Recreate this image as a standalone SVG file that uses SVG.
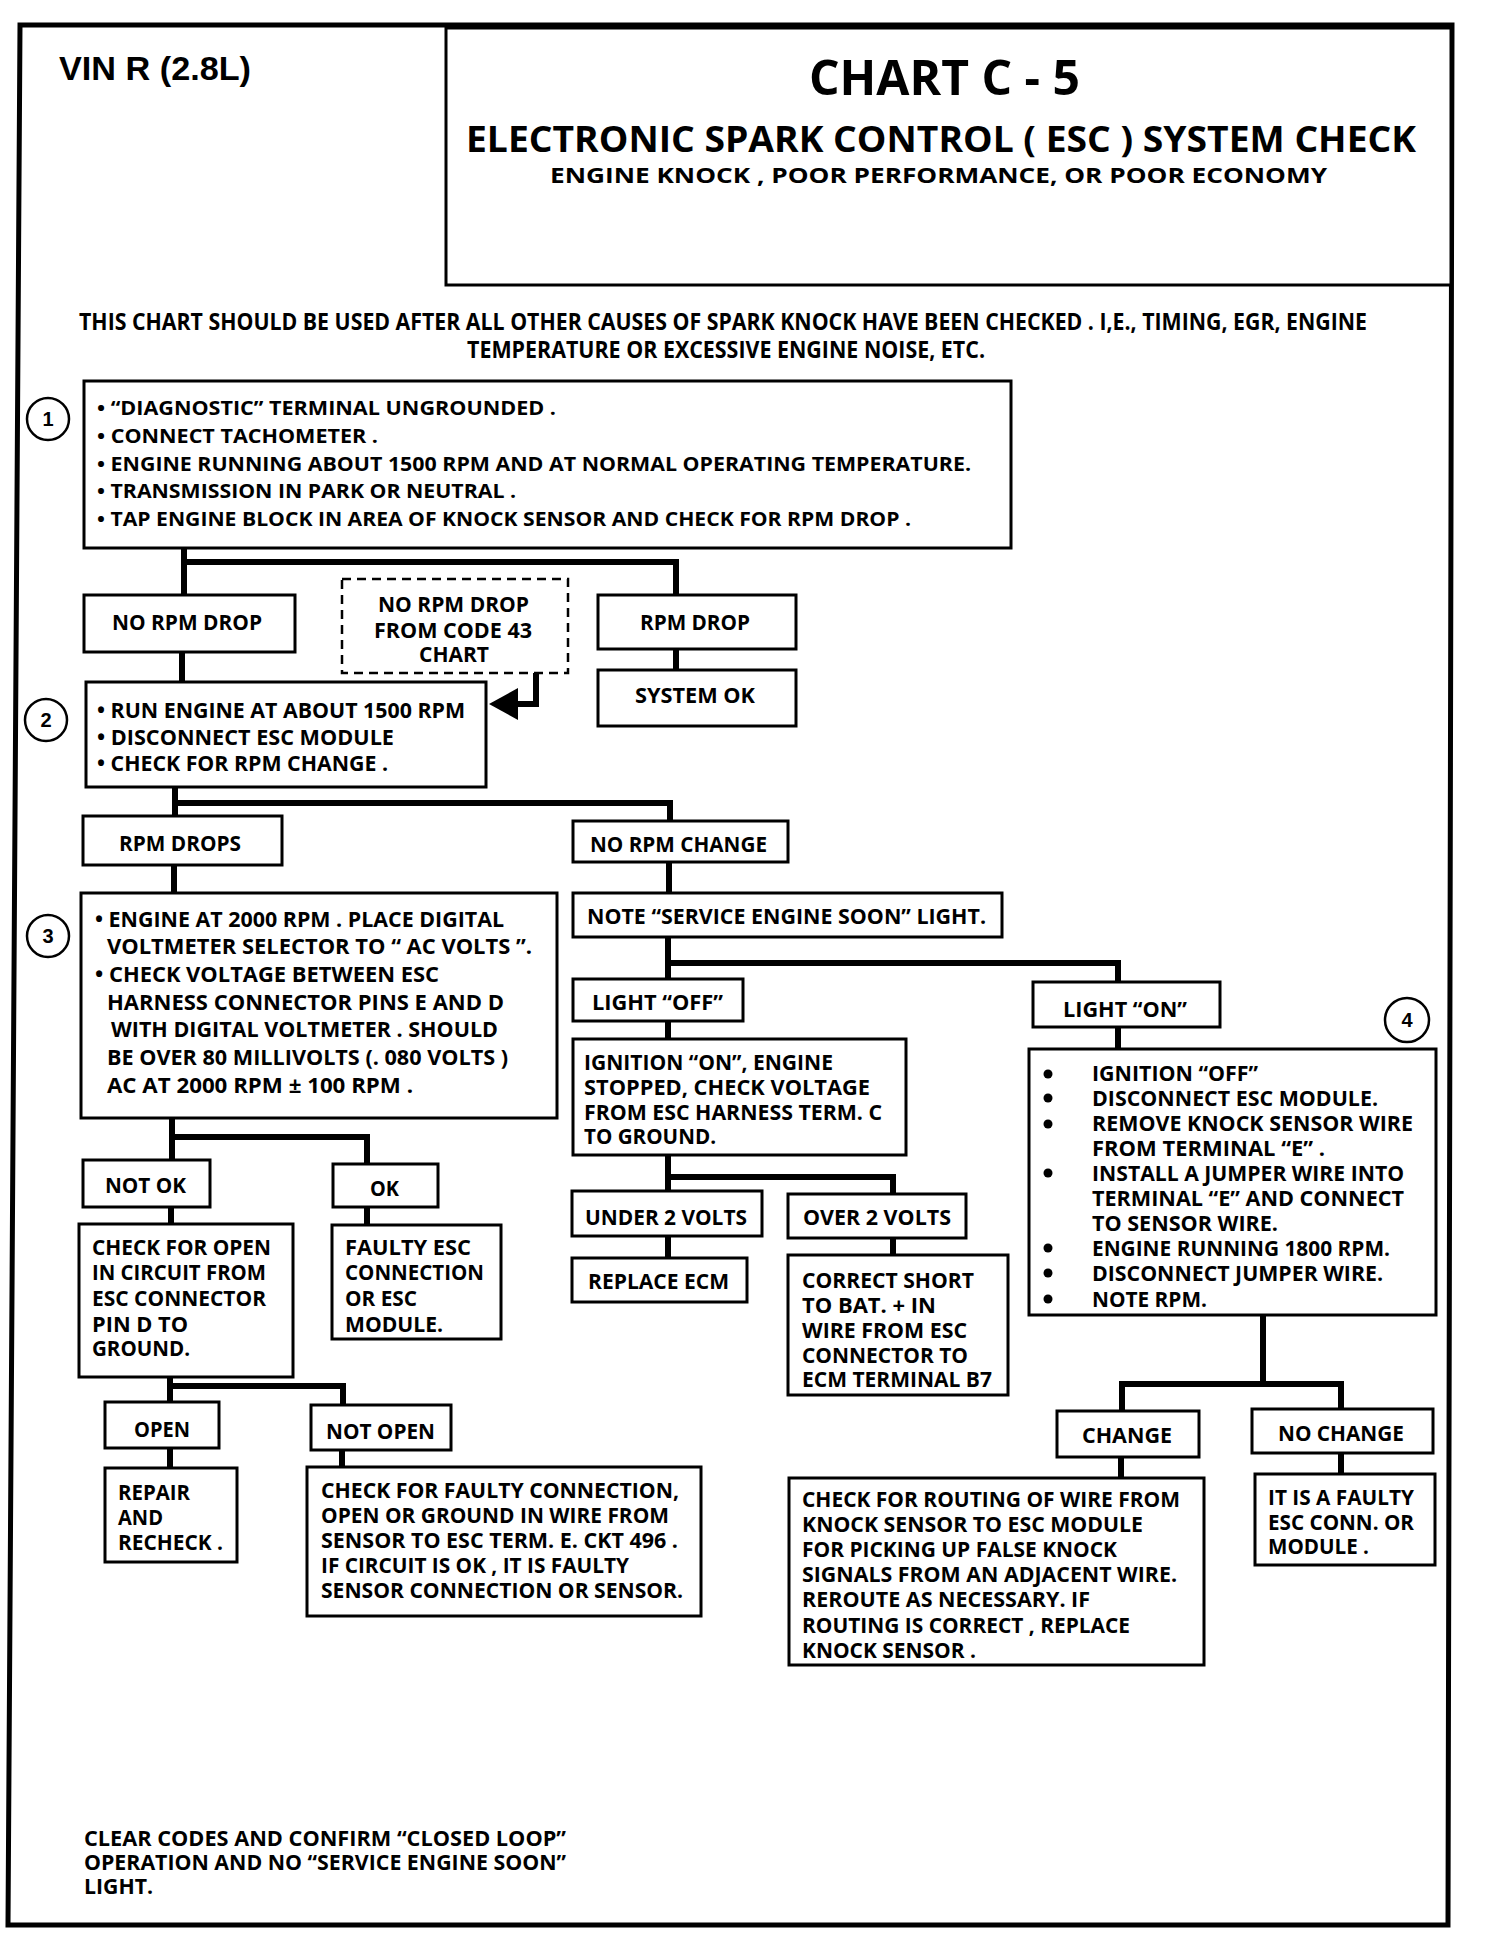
<svg xmlns="http://www.w3.org/2000/svg" width="1504" height="1956" viewBox="0 0 1504 1956" xml:space="preserve">
<style>
.bg{fill:#fff}
.frame{fill:none;stroke:#000;stroke-width:5;stroke-linejoin:miter}
.box{fill:#fff;stroke:#000;stroke-width:3}
.dash{fill:#fff;stroke:#000;stroke-width:2.5;stroke-dasharray:9 6}
.conn{fill:none;stroke:#000;stroke-width:6;stroke-linecap:square}
.circ{fill:#fff;stroke:#000;stroke-width:2.5}
.dot{fill:#000}
text{font-family:"Open Sans","Liberation Sans",sans-serif;font-weight:700;font-size:21px;fill:#000}
.s20{font-size:20px}
.s22{font-size:22px}
.num{font-family:"Liberation Sans",Arial,sans-serif;font-size:20px;text-anchor:middle}
.vin{font-family:"Liberation Sans",Arial,sans-serif;font-size:33px}
.h1{font-size:49px}
.h2{font-size:35px}
.h3{font-size:23px}
</style>
<rect class="bg" x="0" y="0" width="1504" height="1956"/>

<g id="page">
  <path class="frame" d="M20 25 L1452 25 L1448 1925 L8 1925 Z"/>
  <rect class="box" x="446" y="28" width="1005" height="257"/>
  <text class="vin" x="59" y="80" textLength="192" lengthAdjust="spacingAndGlyphs">VIN R (2.8L)</text>
  <text class="h1" x="809" y="95" textLength="271" lengthAdjust="spacingAndGlyphs">CHART C - 5</text>
  <text class="h2" x="466" y="152" textLength="950" lengthAdjust="spacingAndGlyphs">ELECTRONIC SPARK CONTROL ( ESC ) SYSTEM CHECK</text>
  <text class="s22" x="550" y="183" textLength="777" lengthAdjust="spacingAndGlyphs">ENGINE KNOCK , POOR PERFORMANCE, OR POOR ECONOMY</text>
  <text class="h3" x="79" y="330" textLength="1288" lengthAdjust="spacingAndGlyphs">THIS CHART SHOULD BE USED AFTER ALL OTHER CAUSES OF SPARK KNOCK HAVE BEEN CHECKED . I,E.,  TIMING, EGR, ENGINE</text>
  <text class="h3" x="467" y="358" textLength="518" lengthAdjust="spacingAndGlyphs">TEMPERATURE OR EXCESSIVE ENGINE NOISE, ETC.</text>
</g>

<g id="connectors">
  <path class="conn" d="M184 548 V595 M184 562 H676 V595"/>
  <path class="conn" d="M676 649 V670"/>
  <path class="conn" d="M182 652 V682"/>
  <path class="conn" d="M536 673 V704 H514"/>
  <polygon points="489,704 518,688 518,720" fill="#000"/>
  <path class="conn" d="M175 787 V816 M175 803 H670 V821"/>
  <path class="conn" d="M174 865 V893"/>
  <path class="conn" d="M669 862 V893"/>
  <path class="conn" d="M668 937 V979 M668 963 H1118 V982"/>
  <path class="conn" d="M668 1021 V1039"/>
  <path class="conn" d="M668 1155 V1191 M668 1177 H893 V1194"/>
  <path class="conn" d="M668 1236 V1258"/>
  <path class="conn" d="M893 1238 V1255"/>
  <path class="conn" d="M1118 1027 V1049"/>
  <path class="conn" d="M1263 1315 V1384 M1122 1411 V1384 H1341 V1409"/>
  <path class="conn" d="M1121 1457 V1478"/>
  <path class="conn" d="M1341 1453 V1474"/>
  <path class="conn" d="M172 1118 V1160 M172 1137 H367 V1164"/>
  <path class="conn" d="M171 1207 V1224"/>
  <path class="conn" d="M367 1207 V1225"/>
  <path class="conn" d="M170 1377 V1402 M170 1386 H343 V1405"/>
  <path class="conn" d="M170 1448 V1468"/>
  <path class="conn" d="M342 1450 V1467"/>
</g>

<g id="step1">
  <rect class="box" x="84" y="381" width="927" height="167"/>
  <circle class="circ" cx="48" cy="419" r="21"/>
  <text class="num" x="48" y="426">1</text>
  <text class="s20" x="97" y="415" textLength="459" lengthAdjust="spacingAndGlyphs">• “DIAGNOSTIC” TERMINAL UNGROUNDED .</text>
  <text class="s20" x="97" y="443" textLength="281" lengthAdjust="spacingAndGlyphs">• CONNECT TACHOMETER .</text>
  <text class="s20" x="97" y="471" textLength="874" lengthAdjust="spacingAndGlyphs">• ENGINE RUNNING  ABOUT 1500 RPM AND AT NORMAL OPERATING TEMPERATURE.</text>
  <text class="s20" x="97" y="498" textLength="419" lengthAdjust="spacingAndGlyphs">• TRANSMISSION IN PARK OR NEUTRAL .</text>
  <text class="s20" x="97" y="526" textLength="814" lengthAdjust="spacingAndGlyphs">• TAP ENGINE BLOCK IN AREA OF KNOCK SENSOR AND CHECK FOR RPM DROP .</text>
</g>

<g id="no-rpm-drop">
  <rect class="box" x="84" y="595" width="211" height="57"/>
  <text x="112" y="630" textLength="150" lengthAdjust="spacingAndGlyphs">NO RPM DROP</text>
</g>
<g id="code43">
  <rect class="dash" x="342" y="579" width="226" height="94"/>
  <text x="378" y="612" textLength="151" lengthAdjust="spacingAndGlyphs">NO RPM DROP</text>
  <text x="374" y="638" textLength="158" lengthAdjust="spacingAndGlyphs">FROM CODE 43</text>
  <text x="419" y="662" textLength="70" lengthAdjust="spacingAndGlyphs">CHART</text>
</g>
<g id="rpm-drop">
  <rect class="box" x="598" y="595" width="198" height="54"/>
  <text x="640" y="630" textLength="110" lengthAdjust="spacingAndGlyphs">RPM DROP</text>
</g>
<g id="system-ok">
  <rect class="box" x="598" y="670" width="198" height="56"/>
  <text x="635" y="703" textLength="120" lengthAdjust="spacingAndGlyphs">SYSTEM OK</text>
</g>

<g id="step2">
  <rect class="box" x="86" y="682" width="400" height="105"/>
  <circle class="circ" cx="46" cy="720" r="21"/>
  <text class="num" x="46" y="727">2</text>
  <text x="97" y="718" textLength="368" lengthAdjust="spacingAndGlyphs">• RUN ENGINE AT ABOUT 1500 RPM</text>
  <text x="97" y="745" textLength="297" lengthAdjust="spacingAndGlyphs">• DISCONNECT ESC MODULE</text>
  <text x="97" y="771" textLength="291" lengthAdjust="spacingAndGlyphs">• CHECK FOR RPM CHANGE .</text>
</g>

<g id="rpm-drops">
  <rect class="box" x="83" y="816" width="199" height="49"/>
  <text x="119" y="851" textLength="122" lengthAdjust="spacingAndGlyphs">RPM DROPS</text>
</g>
<g id="no-rpm-change">
  <rect class="box" x="573" y="821" width="215" height="41"/>
  <text x="590" y="852" textLength="177" lengthAdjust="spacingAndGlyphs">NO RPM CHANGE</text>
</g>

<g id="step3">
  <rect class="box" x="81" y="893" width="476" height="225"/>
  <circle class="circ" cx="48" cy="936" r="21"/>
  <text class="num" x="48" y="943">3</text>
  <text class="s22" x="95" y="927" textLength="409" lengthAdjust="spacingAndGlyphs">• ENGINE AT 2000 RPM . PLACE DIGITAL</text>
  <text class="s22" x="107" y="954" textLength="425" lengthAdjust="spacingAndGlyphs">VOLTMETER SELECTOR TO “ AC VOLTS ”.</text>
  <text class="s22" x="95" y="982" textLength="344" lengthAdjust="spacingAndGlyphs">• CHECK VOLTAGE BETWEEN ESC</text>
  <text class="s22" x="107" y="1010" textLength="397" lengthAdjust="spacingAndGlyphs">HARNESS CONNECTOR PINS  E  AND  D</text>
  <text class="s22" x="111" y="1037" textLength="387" lengthAdjust="spacingAndGlyphs">WITH DIGITAL VOLTMETER . SHOULD</text>
  <text class="s22" x="107" y="1065" textLength="401" lengthAdjust="spacingAndGlyphs">BE OVER 80 MILLIVOLTS (. 080  VOLTS )</text>
  <text class="s22" x="107" y="1093" textLength="306" lengthAdjust="spacingAndGlyphs">AC  AT 2000 RPM  ±  100 RPM .</text>
</g>

<g id="note-ses">
  <rect class="box" x="573" y="893" width="429" height="44"/>
  <text x="587" y="924" textLength="399" lengthAdjust="spacingAndGlyphs">NOTE “SERVICE ENGINE SOON” LIGHT.</text>
</g>
<g id="light-off">
  <rect class="box" x="573" y="979" width="170" height="42"/>
  <text x="592" y="1010" textLength="131" lengthAdjust="spacingAndGlyphs">LIGHT “OFF”</text>
</g>
<g id="light-on">
  <rect class="box" x="1033" y="982" width="187" height="45"/>
  <text x="1063" y="1017" textLength="124" lengthAdjust="spacingAndGlyphs">LIGHT “ON”</text>
</g>
<g id="ignition-on">
  <rect class="box" x="573" y="1039" width="333" height="116"/>
  <text x="584" y="1070" textLength="249" lengthAdjust="spacingAndGlyphs">IGNITION “ON”, ENGINE</text>
  <text x="584" y="1095" textLength="286" lengthAdjust="spacingAndGlyphs">STOPPED,  CHECK VOLTAGE</text>
  <text x="584" y="1120" textLength="298" lengthAdjust="spacingAndGlyphs">FROM ESC HARNESS TERM. C</text>
  <text x="584" y="1144" textLength="132" lengthAdjust="spacingAndGlyphs">TO GROUND.</text>
</g>
<g id="under-2v">
  <rect class="box" x="572" y="1191" width="190" height="45"/>
  <text x="585" y="1225" textLength="162" lengthAdjust="spacingAndGlyphs">UNDER 2 VOLTS</text>
</g>
<g id="over-2v">
  <rect class="box" x="788" y="1194" width="178" height="44"/>
  <text x="803" y="1225" textLength="148" lengthAdjust="spacingAndGlyphs">OVER 2 VOLTS</text>
</g>
<g id="replace-ecm">
  <rect class="box" x="572" y="1258" width="175" height="44"/>
  <text x="588" y="1289" textLength="141" lengthAdjust="spacingAndGlyphs">REPLACE ECM</text>
</g>
<g id="correct-short">
  <rect class="box" x="788" y="1255" width="220" height="140"/>
  <text x="802" y="1288" textLength="172" lengthAdjust="spacingAndGlyphs">CORRECT SHORT</text>
  <text x="802" y="1313" textLength="134" lengthAdjust="spacingAndGlyphs">TO BAT.  +  IN</text>
  <text x="802" y="1338" textLength="165" lengthAdjust="spacingAndGlyphs">WIRE FROM ESC</text>
  <text x="802" y="1363" textLength="166" lengthAdjust="spacingAndGlyphs">CONNECTOR TO</text>
  <text x="802" y="1387" textLength="190" lengthAdjust="spacingAndGlyphs">ECM TERMINAL B7</text>
</g>

<g id="step4">
  <rect class="box" x="1029" y="1049" width="407" height="266"/>
  <circle class="circ" cx="1407" cy="1020" r="22"/>
  <text class="num" x="1407" y="1027">4</text>
  <circle class="dot" cx="1048" cy="1074" r="4.5"/>
  <circle class="dot" cx="1048" cy="1098" r="4.5"/>
  <circle class="dot" cx="1048" cy="1124" r="4.5"/>
  <circle class="dot" cx="1048" cy="1173" r="4.5"/>
  <circle class="dot" cx="1048" cy="1248" r="4.5"/>
  <circle class="dot" cx="1048" cy="1273" r="4.5"/>
  <circle class="dot" cx="1048" cy="1299" r="4.5"/>
  <text x="1092" y="1081" textLength="166" lengthAdjust="spacingAndGlyphs">IGNITION “OFF”</text>
  <text x="1092" y="1106" textLength="286" lengthAdjust="spacingAndGlyphs">DISCONNECT ESC MODULE.</text>
  <text x="1092" y="1131" textLength="321" lengthAdjust="spacingAndGlyphs">REMOVE KNOCK SENSOR WIRE</text>
  <text x="1092" y="1156" textLength="233" lengthAdjust="spacingAndGlyphs">FROM TERMINAL “E” .</text>
  <text x="1092" y="1181" textLength="312" lengthAdjust="spacingAndGlyphs">INSTALL A JUMPER WIRE INTO</text>
  <text x="1092" y="1206" textLength="312" lengthAdjust="spacingAndGlyphs">TERMINAL “E” AND CONNECT</text>
  <text x="1092" y="1231" textLength="186" lengthAdjust="spacingAndGlyphs">TO SENSOR WIRE.</text>
  <text x="1092" y="1256" textLength="298" lengthAdjust="spacingAndGlyphs">ENGINE RUNNING 1800 RPM.</text>
  <text x="1092" y="1281" textLength="291" lengthAdjust="spacingAndGlyphs">DISCONNECT JUMPER WIRE.</text>
  <text x="1092" y="1307" textLength="115" lengthAdjust="spacingAndGlyphs">NOTE RPM.</text>
</g>
<g id="change">
  <rect class="box" x="1057" y="1411" width="142" height="46"/>
  <text x="1082" y="1443" textLength="90" lengthAdjust="spacingAndGlyphs">CHANGE</text>
</g>
<g id="no-change">
  <rect class="box" x="1252" y="1409" width="181" height="44"/>
  <text x="1278" y="1441" textLength="126" lengthAdjust="spacingAndGlyphs">NO CHANGE</text>
</g>
<g id="check-routing">
  <rect class="box" x="789" y="1478" width="415" height="187"/>
  <text x="802" y="1507" textLength="378" lengthAdjust="spacingAndGlyphs">CHECK FOR ROUTING OF WIRE FROM</text>
  <text x="802" y="1532" textLength="341" lengthAdjust="spacingAndGlyphs">KNOCK SENSOR TO ESC MODULE</text>
  <text x="802" y="1557" textLength="315" lengthAdjust="spacingAndGlyphs">FOR PICKING UP FALSE KNOCK</text>
  <text x="802" y="1582" textLength="375" lengthAdjust="spacingAndGlyphs">SIGNALS FROM AN ADJACENT WIRE.</text>
  <text x="802" y="1607" textLength="288" lengthAdjust="spacingAndGlyphs">REROUTE AS NECESSARY. IF</text>
  <text x="802" y="1633" textLength="328" lengthAdjust="spacingAndGlyphs">ROUTING IS CORRECT , REPLACE</text>
  <text x="802" y="1658" textLength="174" lengthAdjust="spacingAndGlyphs">KNOCK SENSOR .</text>
</g>
<g id="faulty-module">
  <rect class="box" x="1255" y="1474" width="180" height="91"/>
  <text x="1268" y="1505" textLength="146" lengthAdjust="spacingAndGlyphs">IT IS A FAULTY</text>
  <text x="1268" y="1530" textLength="146" lengthAdjust="spacingAndGlyphs">ESC CONN. OR</text>
  <text x="1268" y="1554" textLength="101" lengthAdjust="spacingAndGlyphs">MODULE .</text>
</g>

<g id="not-ok">
  <rect class="box" x="83" y="1160" width="127" height="47"/>
  <text x="105" y="1193" textLength="81" lengthAdjust="spacingAndGlyphs">NOT OK</text>
</g>
<g id="ok">
  <rect class="box" x="333" y="1164" width="105" height="43"/>
  <text x="370" y="1196" textLength="29" lengthAdjust="spacingAndGlyphs">OK</text>
</g>
<g id="check-open">
  <rect class="box" x="79" y="1224" width="214" height="153"/>
  <text x="92" y="1255" textLength="179" lengthAdjust="spacingAndGlyphs">CHECK FOR OPEN</text>
  <text x="92" y="1280" textLength="174" lengthAdjust="spacingAndGlyphs">IN CIRCUIT FROM</text>
  <text x="92" y="1306" textLength="174" lengthAdjust="spacingAndGlyphs">ESC CONNECTOR</text>
  <text x="92" y="1332" textLength="96" lengthAdjust="spacingAndGlyphs">PIN  D  TO</text>
  <text x="92" y="1356" textLength="98" lengthAdjust="spacingAndGlyphs">GROUND.</text>
</g>
<g id="faulty-esc">
  <rect class="box" x="332" y="1225" width="169" height="114"/>
  <text x="345" y="1255" textLength="126" lengthAdjust="spacingAndGlyphs">FAULTY ESC</text>
  <text x="345" y="1280" textLength="139" lengthAdjust="spacingAndGlyphs">CONNECTION</text>
  <text x="345" y="1306" textLength="72" lengthAdjust="spacingAndGlyphs">OR ESC</text>
  <text x="345" y="1332" textLength="98" lengthAdjust="spacingAndGlyphs">MODULE.</text>
</g>
<g id="open">
  <rect class="box" x="105" y="1402" width="114" height="46"/>
  <text x="134" y="1437" textLength="56" lengthAdjust="spacingAndGlyphs">OPEN</text>
</g>
<g id="not-open">
  <rect class="box" x="311" y="1405" width="140" height="45"/>
  <text x="326" y="1439" textLength="109" lengthAdjust="spacingAndGlyphs">NOT OPEN</text>
</g>
<g id="repair">
  <rect class="box" x="105" y="1468" width="132" height="94"/>
  <text x="118" y="1500" textLength="72" lengthAdjust="spacingAndGlyphs">REPAIR</text>
  <text x="118" y="1525" textLength="45" lengthAdjust="spacingAndGlyphs">AND</text>
  <text x="118" y="1550" textLength="105" lengthAdjust="spacingAndGlyphs">RECHECK .</text>
</g>
<g id="check-faulty">
  <rect class="box" x="307" y="1467" width="394" height="149"/>
  <text x="321" y="1498" textLength="358" lengthAdjust="spacingAndGlyphs">CHECK FOR FAULTY CONNECTION,</text>
  <text x="321" y="1523" textLength="348" lengthAdjust="spacingAndGlyphs">OPEN OR GROUND IN WIRE FROM</text>
  <text x="321" y="1548" textLength="357" lengthAdjust="spacingAndGlyphs">SENSOR TO ESC TERM. E. CKT 496 .</text>
  <text x="321" y="1573" textLength="308" lengthAdjust="spacingAndGlyphs">IF CIRCUIT IS OK , IT IS FAULTY</text>
  <text x="321" y="1598" textLength="362" lengthAdjust="spacingAndGlyphs">SENSOR CONNECTION OR SENSOR.</text>
</g>

<g id="final-note">
  <text x="84" y="1846" textLength="482" lengthAdjust="spacingAndGlyphs">CLEAR CODES AND CONFIRM  “CLOSED LOOP”</text>
  <text x="84" y="1870" textLength="482" lengthAdjust="spacingAndGlyphs">OPERATION AND NO “SERVICE ENGINE SOON”</text>
  <text x="84" y="1894" textLength="69" lengthAdjust="spacingAndGlyphs">LIGHT.</text>
</g>
</svg>
